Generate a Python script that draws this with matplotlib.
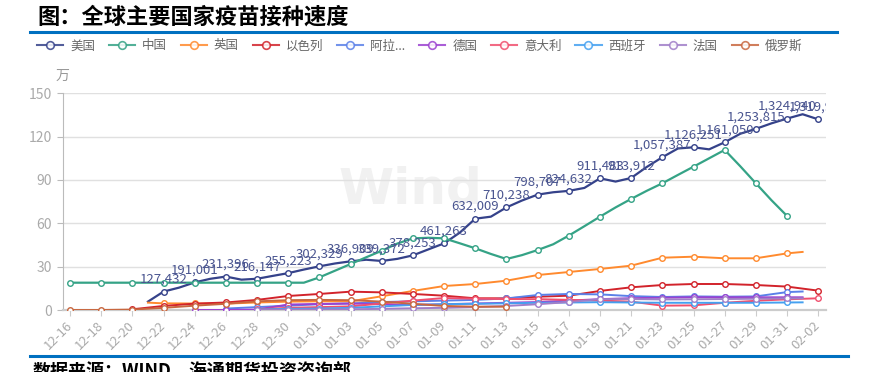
import matplotlib
matplotlib.use("Agg")
import matplotlib.pyplot as plt
from matplotlib.lines import Line2D
import numpy as np

plt.rcParams['font.family'] = ['Noto Sans CJK SC', 'DejaVu Sans']

_ = None

# daily dates 12-16 .. 02-02
dates = ([f"12-{d:02d}" for d in range(16, 32)] +
         [f"01-{d:02d}" for d in range(1, 32)] +
         ["02-01", "02-02"])

countries = ['美国', '中国', '英国', '以色列', '阿拉...', '德国', '意大利', '西班牙', '法国', '俄罗斯']
colors = ['#35428a', '#35a386', '#ff8a2e', '#d2232b', '#5b80e8',
          '#9b42d0', '#f0506e', '#44a0f0', '#a07ec8', '#c8673f']

# US in persons (labels show the raw numbers), the rest in 万
us = [_, _, _, _, _, 58000, 127432, 155000, 191001, 216000, 231396, 210000, 216147, 236000, 255223, 280000,
      302329, 322000, 336909, 348000, 339372, 354000, 378253, 420000, 461263, 535000, 632009, 646000,
      710238, 758000, 798707, 815000,
      824632, 845000, 911483, 889000, 913912, 990000, 1057387, 1118000, 1126251, 1112000, 1161050,
      1220000, 1253815, 1292000, 1324940, 1355000, 1319949]
china = [18.9] * 16 + [
    22.6, 27.2, 31.8, 36.5, 41.0, 46.0, 49.6, 50.0, 49.6, 46.2, 42.7, 38.8, 35.3, 38.0, 41.5, 45.5,
    51.5, 58.0, 64.6, 71.0, 76.9, 82.5, 87.7, 93.5, 99.2, 105.0, 110.8, 99.5, 87.7, 76.0, 65.1, _, _]
uk = [_, _, _, _, _, 5.1, 4.6, _, 4.5, _, 4.4, _, 5.2, _, 5.8, _,
      6.0, _, 6.0, _, 9.5, _, 13.2, _, 16.6, _, 18.0, _, 20.3, _, 24.2, _,
      26.3, _, 28.4, _, 30.7, _, 36.2, _, 36.9, _, 35.8, _, 35.8, _, 39.2, 40.2, _]
israel = [_, _, _, _, 0.5, _, 2.8, _, 4.4, _, 5.2, _, 7.0, _, 9.7, _,
          11.1, _, 12.7, _, 12.2, _, 11.1, _, 9.9, _, 8.1, _, 8.1, _, 9.2, _,
          9.9, _, 13.2, _, 15.7, _, 17.3, _, 18.0, _, 18.0, _, 17.3, _, 16.2, _, 13.4]
uae = [_, _, _, _, _, _, _, _, _, _, 1.0, _, 2.0, _, 3.0, _,
       4.0, _, 4.5, _, 5.5, _, 6.0, _, 6.5, _, 7.0, _, 8.0, _, 10.4, _,
       11.1, _, 10.8, _, 9.6, _, 9.0, _, 9.4, _, 9.2, _, 9.4, _, 12.4, 12.8, _]
germany = [_, _, _, _, _, _, _, _, 0.0, _, 0.0, _, 0.3, _, 3.8, _,
           4.2, _, 4.5, _, 4.0, _, 3.5, _, 4.0, _, 4.5, _, 5.0, _, 5.5, _,
           6.5, _, 7.5, _, 8.2, _, 8.5, _, 8.8, _, 8.8, _, 8.8, _, 8.8, 8.8, _]
italy = [_, _, _, _, _, _, _, _, _, _, _, _, 0.5, _, 1.5, _,
         2.0, _, 2.5, _, 4.5, _, 6.5, _, 8.3, _, 7.8, _, 7.6, _, 7.5, _,
         7.0, _, 6.5, _, 5.8, _, 3.0, _, 3.2, _, 5.0, _, 6.4, _, 7.4, _, 8.1]
spain = [_, _, _, _, _, _, _, _, _, _, _, _, 0.3, _, 0.8, _,
         1.0, _, 1.5, _, 2.5, _, 3.5, _, 4.0, _, 4.3, _, 4.6, _, 5.0, _,
         5.2, _, 5.4, _, 5.2, _, 5.0, _, 5.0, _, 5.0, _, 5.0, _, 5.2, 5.3, _]
france = [_, _, _, _, _, _, _, _, _, _, _, _, 0.0, _, 0.2, _,
          0.3, _, 0.5, _, 0.8, _, 1.2, _, 1.5, _, 2.0, _, 2.8, _, 4.0, _,
          5.5, _, 7.5, _, 7.6, _, 7.3, _, 7.4, _, 7.6, _, 7.8, _, 8.0, 8.1, _]
russia = [0.0, _, 0.0, _, 0.3, _, 1.5, _, 3.0, _, 4.3, _, 6.0, _, 6.8, _,
          7.0, _, 6.8, _, 5.8, _, 4.3, _, 2.8, _, 2.3, _, 2.3, _, _, _] + [_] * 17

us_wan = [v / 10000 if v is not None else None for v in us]
series = [us_wan, china, uk, israel, uae, germany, italy, spain, france, russia]

fig = plt.figure(figsize=(8.91, 3.72), dpi=100)
W, H = 891, 372
ax = fig.add_axes([63 / W, 62 / H, (826 - 63) / W, (310 - 93.3) / H])

# watermark
ax.text(410 / W, 1 - 190 / H, "Wind", transform=fig.transFigure, fontsize=36,
        fontweight='bold', color='#f1f1f1', ha='center', va='center', zorder=0.2,
        family='DejaVu Sans')

for k, (vals, c) in enumerate(zip(series, colors)):
    idx = [i for i, v in enumerate(vals) if v is not None]
    y = [vals[i] for i in idx]
    mk = [j for j, i in enumerate(idx) if i % 2 == 0]
    lw = 1.6 if k < 2 else 1.4
    ax.plot(idx, y, color=c, lw=lw, marker='o', markevery=mk, markersize=4,
            markerfacecolor='white', markeredgecolor=c, markeredgewidth=1.0,
            zorder=3 + k * 0.1, solid_joinstyle='round')

# data labels on the US series
for i, v in enumerate(us):
    if v is not None and i % 2 == 0:
        ax.annotate(f"{v:,}", (i, v / 10000), xytext=(0, 4), textcoords='offset points',
                    ha='center', va='bottom', fontsize=9.5, color='#4a5590',
                    zorder=6, clip_on=True, annotation_clip=False)

ax.set_xlim(-0.45, 48.5)
ax.set_ylim(0, 150)
ax.set_yticks(np.arange(0, 151, 30))
ax.set_xticks(range(0, 49, 2))
ax.set_xticklabels(dates[::2], rotation=45, ha='right', va='center',
                   rotation_mode='anchor', fontsize=9.5, color='#aaaaaa')
ax.tick_params(axis='x', length=4, color='#cccccc', pad=6)
ax.tick_params(axis='y', length=4, color='#bbbbbb', pad=4, labelsize=10, labelcolor='#aaaaaa')
ax.grid(axis='y', color='#e0e0e0', lw=1)
ax.set_axisbelow(True)
for s in ['top', 'right']:
    ax.spines[s].set_visible(False)
ax.spines['left'].set_color('#bbbbbb')
ax.spines['bottom'].set_color('#cccccc')
ax.spines['bottom'].set_linewidth(1.6)

fig.text(62 / W, 1 - 76 / H, "万", ha='center', va='center', fontsize=10, color='#999999')

# legend
handles = [Line2D([], [], color=c, lw=1.5, marker='o', markersize=5.5,
                  markerfacecolor='white', markeredgecolor=c, markeredgewidth=1.2, alpha=0.85)
           for c in colors]
fig.legend(handles, countries, loc='center left', bbox_to_anchor=(37 / W, 1 - 46 / H),
           ncol=10, frameon=False, fontsize=9, handlelength=2.1, handletextpad=0.55,
           columnspacing=1.1, borderpad=0, borderaxespad=0, labelcolor='#666666')

# title, rules and source
fig.text(37 / W, 1 - 17 / H, "图：全球主要国家疫苗接种速度", fontsize=16, fontweight='bold',
         ha='left', va='center', color='black')
fig.add_artist(Line2D([30 / W, 837 / W], [1 - 31.5 / H, 1 - 31.5 / H], color='#0070c0', lw=2.2))
fig.add_artist(Line2D([30 / W, 848 / W], [1 - 355.5 / H, 1 - 355.5 / H], color='#0070c0', lw=2.2))
fig.text(33 / W, 1 - 361 / H, "数据来源：WIND，海通期货投资咨询部", fontsize=13, fontweight='bold',
         ha='left', va='top', color='black')

fig.savefig("out.png", dpi=100)
